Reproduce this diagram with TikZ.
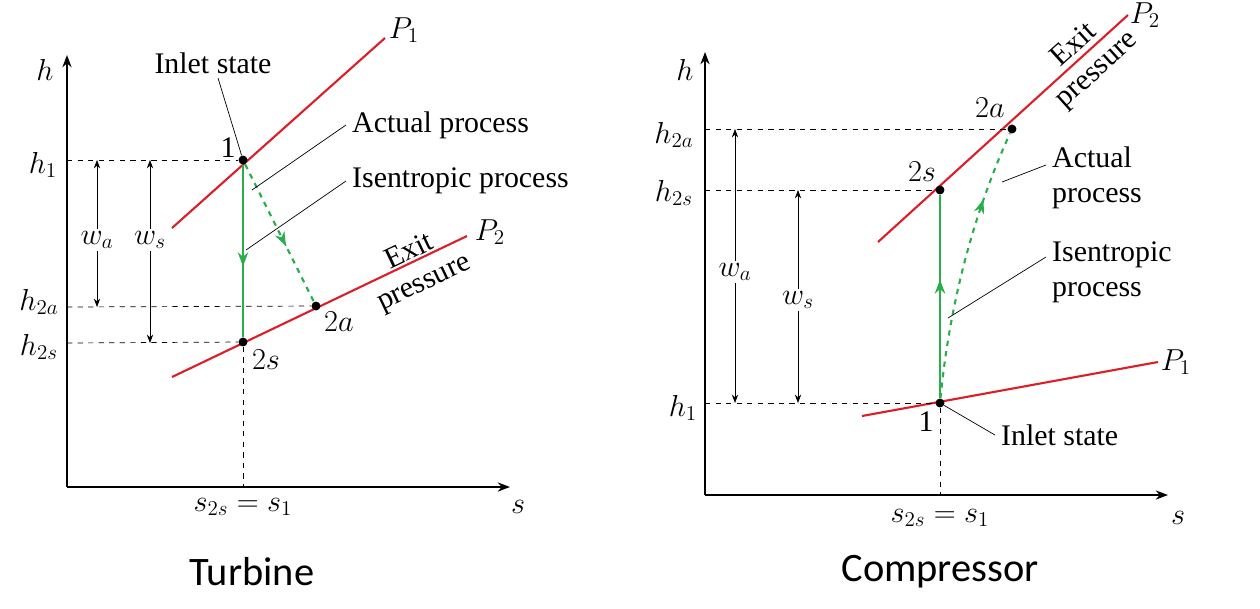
\documentclass[tikz,border=0pt]{standalone}
\usepackage{fontspec}
\setmainfont{Liberation Serif}
\newfontfamily\capfont{Carlito}
\usetikzlibrary{arrows.meta}
\definecolor{linered}{RGB}{220,30,40}
\definecolor{procgreen}{RGB}{40,175,75}
\begin{document}
\begin{tikzpicture}
		[
		x=0.2mm, y=-0.2mm, font=\fontsize{17}{20}\selectfont, >=Stealth,
		%Voreinstellung für Linien
		achse/.style={-{Stealth[length=7pt]}, thick},
		hilf/.style={dashed, thin},
		druck/.style={linered, very thick},
		prozess/.style={procgreen, very thick},
		punkt/.style={circle, fill, inner sep=1.8pt},
		masz/.style={<->, thin},
		zeiger/.style={thin},
		schraeg/.style={align=center, inner sep=0pt, font=\fontsize{17}{19}\selectfont}
		]
		\useasboundingbox (0,0) rectangle (1260,608);

		%----- Turbine -----
		%Achsen
		\coordinate (T0) at (67,487);
		\draw[achse] (T0) -- (67,55);
		\draw[achse] (T0) -- (510,487);
		\node (Th) at (45,70) {$h$};
		\node (Ts) at (518,507) {$s$};

		%Isobaren
		\draw[druck] (172,228) -- (385,38);
		\node (TP1) at (404,30) {$P_1$};
		\draw[druck] (172,377) -- (467,236);
		\node (TP2) at (490,232) {$P_2$};
		\node[schraeg, rotate=25.5] (Texit) at (417,268) {Exit\\pressure};

		%Zustaende
		\node[punkt] (T1) at (243,160) {};
		\node[punkt] (T2s) at (243,342) {};
		\node[punkt] (T2a) at (316,306) {};
		\node (T1l) at (228,148) {1};
		\node (T2sl) at (266,360) {$2s$};
		\node (T2al) at (339,322) {$2a$};

		%Hilfslinien
		\draw[hilf] (67,160) -- (T1);
		\draw[hilf] (67,307) -- (T2a);
		\draw[hilf] (67,343) -- (T2s);
		\draw[hilf] (T2s) -- (243,487);
		\node (Th1) at (43,165) {$h_1$};
		\node (Th2a) at (39,302) {$h_{2a}$};
		\node (Th2s) at (39,347) {$h_{2s}$};
		\node (Ts1) at (243,507) {$s_{2s}=s_1$};

		%Arbeit
		\draw[masz] (97,160) -- (97,307);
		\node[fill=white, inner sep=1pt] (Twa) at (97,240) {$w_a$};
		\draw[masz] (150,160) -- (150,343);
		\node[fill=white, inner sep=1pt] (Tws) at (150,240) {$w_s$};

		%Prozesse
		\draw[prozess] (T1) -- node[sloped, pos=0.55]{\tikz\draw[procgreen,thick,-{Stealth[length=8pt]}](0,0)--(0.05,0);} (T2s);
		\draw[prozess, dashed] (T1) -- node[sloped, pos=0.55]{\tikz\draw[procgreen,thick,-{Stealth[length=8pt]}](0,0)--(0.05,0);} (T2a);

		%Beschriftungen
		\node (Tinlet) at (213,63) {Inlet state};
		\draw[zeiger] (218,78) -- (T1);
		\node[anchor=west] (Tact) at (346,125) {Actual process};
		\draw[zeiger] (Tact.west) -- (252,190);
		\node[anchor=west] (Tisen) at (346,181) {Isentropic process};
		\draw[zeiger] (Tisen.west) -- (246,250);
		\node[font=\capfont\fontsize{23}{27}\selectfont] (Tcap) at (252,572) {Turbine};

		%----- Compressor -----
		%Achsen
		\coordinate (K0) at (705,495);
		\draw[achse] (K0) -- (705,52);
		\draw[achse] (K0) -- (1168,495);
		\node (Kh) at (685,70) {$h$};
		\node (Ks) at (1178,518) {$s$};

		%Isobaren
		\draw[druck] (862,416) -- (1158,362);
		\node (KP1) at (1176,362) {$P_1$};
		\draw[druck] (878,242) -- (1128,15);
		\node (KP2) at (1145,15) {$P_2$};
		\node[schraeg, rotate=42] (Kexit) at (1086,58) {Exit\\pressure};

		%Zustaende
		\node[punkt] (K1) at (940,403) {};
		\node[punkt] (K2s) at (940,190) {};
		\node[punkt] (K2a) at (1012,129) {};
		\node (K1l) at (926,422) {1};
		\node (K2sl) at (922,172) {$2s$};
		\node (K2al) at (990,108) {$2a$};

		%Hilfslinien
		\draw[hilf] (705,129) -- (K2a);
		\draw[hilf] (705,190) -- (K2s);
		\draw[hilf] (705,403) -- (K1);
		\draw[hilf] (K1) -- (940,495);
		\node (Kh2a) at (674,135) {$h_{2a}$};
		\node (Kh2s) at (674,193) {$h_{2s}$};
		\node (Kh1) at (683,408) {$h_1$};
		\node (Ks1) at (940,518) {$s_{2s}=s_1$};

		%Arbeit
		\draw[masz] (735,129) -- (735,403);
		\node[fill=white, inner sep=1pt] (Kwa) at (735,272) {$w_a$};
		\draw[masz] (798,190) -- (798,403);
		\node[fill=white, inner sep=1pt] (Kws) at (798,300) {$w_s$};

		%Prozesse
		\draw[prozess] (K1) -- node[sloped, pos=0.55]{\tikz\draw[procgreen,thick,-{Stealth[length=8pt]}](0,0)--(0.05,0);} (K2s);
		\draw[prozess, dashed] (K1) .. controls (950,300) and (975,210) .. node[sloped, pos=0.7]{\tikz\draw[procgreen,thick,-{Stealth[length=8pt]}](0,0)--(0.05,0);} (K2a);

		%Beschriftungen
		\node[align=left, anchor=west] (Kact) at (1046,178) {Actual\\process};
		\draw[zeiger] (1046,165) -- (1002,182);
		\node[align=left, anchor=west] (Kisen) at (1046,272) {Isentropic\\process};
		\draw[zeiger] (1046,257) -- (948,318);
		\node[anchor=west] (Kinlet) at (995,435) {Inlet state};
		\draw[zeiger] (Kinlet.west) -- (K1);
		\node[font=\capfont\fontsize{23}{27}\selectfont] (Kcap) at (940,572) {Compressor};
\end{tikzpicture}
\end{document}
